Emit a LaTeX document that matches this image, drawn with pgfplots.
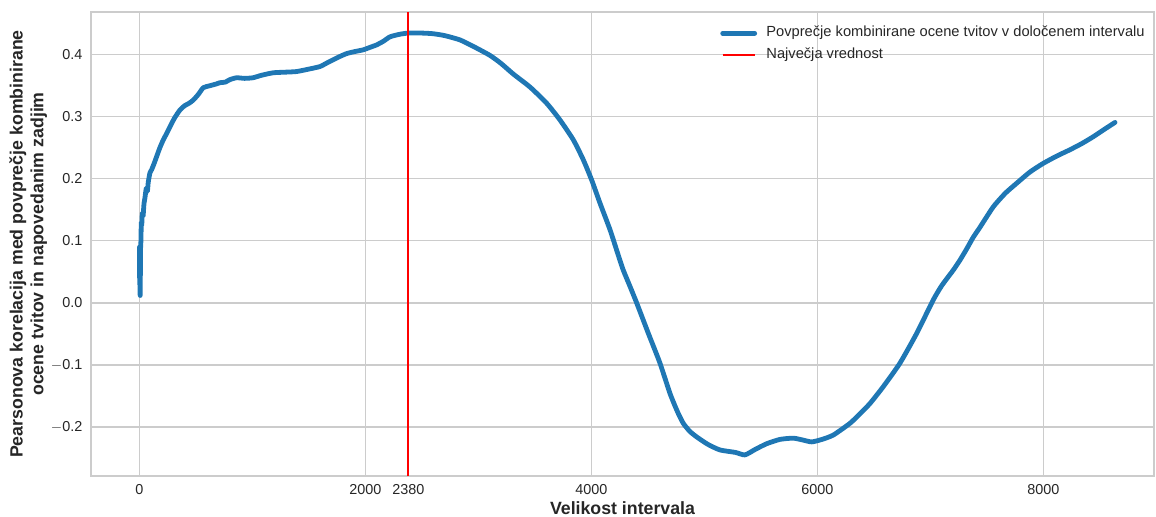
\documentclass[border=0pt]{standalone}
\usepackage{pgfplots}
\pgfplotsset{compat=1.18}
\usepackage{fontspec}
\setmainfont{Liberation Sans}
\definecolor{tabblue}{HTML}{1F77B4}
\definecolor{gridgray}{HTML}{CCCCCC}
\definecolor{txt}{HTML}{262626}
\begin{document}
\begin{tikzpicture}
\begin{axis}[
  scale only axis,
  width=797.25pt, height=348pt,
  at={(0,0)}, anchor=south west,
  xmin=-429, xmax=8978,
  ymin=-0.279, ymax=0.469,
  xtick={0,2000,2380,4000,6000,8000},
  xticklabels={0,2000,2380,4000,6000,8000},
  ytick={-0.2,-0.1,0,0.1,0.2,0.3,0.4},
  yticklabels={$-$0.2,$-$0.1,0.0,0.1,0.2,0.3,0.4},
  grid=major,
  major grid style={gridgray, line width=0.9pt},
  axis line style={gridgray, line width=0.9pt},
  tick style={draw=none},
  major tick length=0pt,
  every tick label/.append style={font=\fontsize{10.8}{13}\selectfont, text=txt},
  xticklabel style={yshift=-3pt},
  yticklabel style={xshift=-3pt},
  xlabel={Velikost intervala},
  ylabel={Pearsonova korelacija med povprečje kombinirane\\ocene tvitov in napovedanim zadjim},
  xlabel style={font=\fontsize{13.3}{15}\selectfont\bfseries, text=txt, at={(axis description cs:0.5,0)}, anchor=north, yshift=-16pt},
  ylabel style={font=\fontsize{13.3}{15.5}\selectfont\bfseries, text=txt, align=center, at={(axis description cs:-0.059,0.5)}, anchor=center},
  legend style={draw=none, fill=none, at={(rel axis cs:0.592,0.972)}, anchor=north west,
    inner sep=0pt, outer sep=0pt, row sep=3.7pt, column sep=6pt,
    font=\fontsize{11}{13}\selectfont, text=txt,
    nodes={text height=8pt, text depth=2.5pt, inner sep=1pt}},
  legend cell align=left,
  legend image code/.code={\draw[#1] (0pt,0pt) -- (24pt,0pt);},
]
\addplot[tabblue, line width=3.6pt, line join=round, line cap=round, smooth, tension=0.35] coordinates {
(0,0.09) (2,0.03) (4,0.07) (6,0.012) (8,0.05) (10,0.09) (13,0.10) (16,0.13) (20,0.125)
(25,0.145) (32,0.14) (40,0.16) (49,0.17) (60,0.185) (70,0.18) (78,0.195) (93,0.21)
(108,0.215) (130,0.225) (152,0.236) (180,0.25) (211,0.263) (240,0.273) (270,0.284)
(310,0.298) (358,0.311) (400,0.318) (440,0.322) (476,0.327) (520,0.336) (565,0.347)
(620,0.350) (680,0.353) (712,0.355) (760,0.356) (800,0.360) (860,0.363) (930,0.362)
(1005,0.363) (1080,0.367) (1183,0.371) (1290,0.372) (1391,0.373) (1500,0.377)
(1597,0.381) (1650,0.386) (1714,0.392) (1770,0.397) (1834,0.402) (1900,0.405)
(1980,0.408) (2040,0.412) (2099,0.416) (2160,0.422) (2217,0.429) (2300,0.433)
(2380,0.435) (2500,0.435) (2597,0.434) (2700,0.431) (2836,0.424) (2960,0.413)
(3102,0.399) (3200,0.386) (3308,0.369) (3456,0.348) (3603,0.322) (3721,0.295)
(3839,0.263) (3927,0.231) (4002,0.198) (4075,0.161) (4164,0.118) (4237,0.077)
(4281,0.053) (4340,0.027) (4400,0.0) (4503,-0.049) (4606,-0.097) (4695,-0.146)
(4760,-0.175) (4812,-0.194) (4870,-0.207) (4931,-0.216) (5030,-0.228) (5137,-0.237)
(5274,-0.241) (5358,-0.245) (5450,-0.236) (5550,-0.227) (5668,-0.220) (5786,-0.218)
(5870,-0.221) (5949,-0.224) (6040,-0.220) (6140,-0.213) (6288,-0.194) (6380,-0.178)
(6465,-0.162) (6582,-0.135) (6730,-0.097) (6878,-0.049) (7025,0.005) (7100,0.028)
(7202,0.053) (7261,0.069) (7320,0.087) (7379,0.106) (7438,0.122) (7556,0.155)
(7663,0.177) (7763,0.193) (7880,0.211) (7998,0.225) (8120,0.237) (8235,0.247)
(8340,0.257) (8441,0.268) (8540,0.280) (8633,0.291)
};
\addlegendentry{Povprečje kombinirane ocene tvitov v določenem intervalu}
\addplot[red, line width=1.5pt] coordinates {(2380,-0.279) (2380,0.469)};
\addlegendentry{Največja vrednost}
\end{axis}
\pgfresetboundingbox
\useasboundingbox (-68.25pt,-30.75pt) rectangle (798.75pt,357pt);
\end{tikzpicture}
\end{document}
